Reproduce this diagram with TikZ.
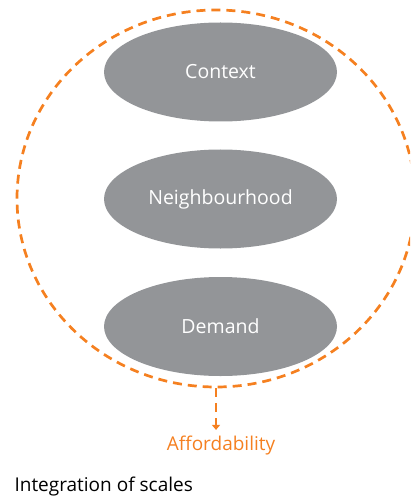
\documentclass[tikz,border=0pt]{standalone}
\usepackage{fontspec}
\setmainfont{Open Sans}
\usetikzlibrary{shapes.geometric, arrows.meta, positioning}
\definecolor{myorange}{RGB}{245,128,32}
\definecolor{mygrey}{RGB}{147,149,152}
\tikzset{
  scalebox/.style={ellipse, fill=mygrey, text=white, minimum width=233pt,
    minimum height=99pt, inner sep=0pt, font=\fontsize{19.5}{21}\selectfont},
  outerring/.style={ellipse, draw=myorange, line width=2.7pt,
    dash pattern=on 9pt off 6pt, minimum width=398pt, minimum height=377pt,
    inner sep=0pt},
  dasharrow/.style={-{Triangle[width=8pt,length=5pt]}, draw=myorange,
    line width=2.7pt, dash pattern=on 9pt off 6pt},
  caption/.style={font=\fontsize{19}{21}\selectfont}
}
\begin{document}
\begin{tikzpicture}[x=1pt, y=-1pt]
  \useasboundingbox (0,0) rectangle (410,497);
  \clip (0,0) rectangle (410,497);

  % Outer dashed ring
  \node[outerring] (ring) at (216,198.5) {};

  % Scales
  \node[scalebox] (context) at (220.5,72) {Context};
  \node[scalebox] (neigh) at (220.5,199) {Neighbourhood};
  \node[scalebox] (demand) at (220.5,326.5) {Demand};

  % Outcome
  \node[caption, text=myorange] (afford) at (221,446) {Affordability};
  \draw[dasharrow, shorten >=3pt] (ring.south) -- (ring.south |- afford.north);

  % Title
  \node[caption, anchor=west] (title) at (11,487) {Integration of scales};
\end{tikzpicture}
\end{document}
